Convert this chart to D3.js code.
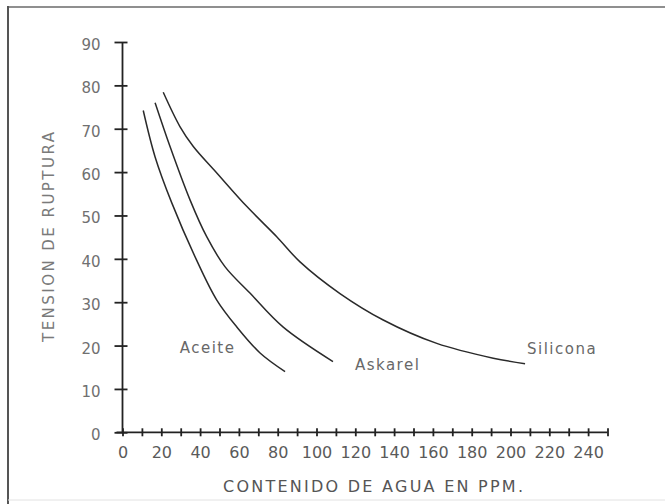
<!DOCTYPE html>
<html>
<head>
<meta charset="utf-8">
<script src="https://cdn.jsdelivr.net/npm/d3@7"></script>
<style>
  html, body { margin: 0; padding: 0; background: #fff; }
  svg { display: block; }
  text { font-family: "DejaVu Sans", Verdana, sans-serif; }
</style>
</head>
<body>
<svg id="chart" width="665" height="504"></svg>
<script>
// Breakdown voltage vs. water content for three insulating liquids
const xTickValues = [0, 20, 40, 60, 80, 100, 120, 140, 160, 180, 200, 220, 240];
const xMinorTicks = d3.range(0, 251, 10);
const yTickValues = [0, 10, 20, 30, 40, 50, 60, 70, 80, 90];

const aceiteX = [10.7, 16.8, 25.4, 38.2, 48.6, 58.9, 70.9, 83.8];
const aceiteY = [74.2, 63.5, 52.9, 39.7, 30.5, 24.3, 18.3, 14.0];

const askarelX = [16.8, 24.5, 34.8, 43.4, 52.8, 65.7, 82.7, 108.5];
const askarelY = [76.0, 65.9, 53.6, 45.1, 38.2, 32.1, 24.3, 16.3];

const siliconaX = [21.0, 29.6, 36.5, 48.6, 64.0, 79.5, 91.5, 112.1, 134.4, 162.0, 191.1, 207.5];
const siliconaY = [78.4, 70.5, 65.9, 59.8, 52.1, 45.1, 39.3, 32.0, 25.9, 20.5, 17.1, 15.8];

const seriesNames = ["Aceite", "Askarel", "Silicona"];

const svg = d3.select("#chart");
const font = "'DejaVu Sans', Verdana, sans-serif";

// frame
svg.append("line").attr("x1", 8).attr("x2", 665).attr("y1", 7).attr("y2", 7)
  .attr("stroke", "#6a6a6a").attr("stroke-width", 1.5);
svg.append("line").attr("x1", 8).attr("x2", 8).attr("y1", 6).attr("y2", 504)
  .attr("stroke", "#555").attr("stroke-width", 2);
svg.append("line").attr("x1", 8).attr("x2", 665).attr("y1", 500).attr("y2", 500)
  .attr("stroke", "#e2e2e2").attr("stroke-width", 1);

const x = d3.scaleLinear().domain([0, 250]).range([122.5, 607.5]);
const y = d3.scaleLinear().domain([0, 90]).range([432.3, 42]);

const ink = "#222";
const labelGrey = "#686868";

// y axis with ticks crossing the line
const yAxis = svg.append("g")
  .attr("transform", `translate(${x(0)},0)`)
  .call(d3.axisLeft(y).tickValues(yTickValues).tickSize(8).tickPadding(14));
yAxis.select(".domain").attr("stroke", ink).attr("stroke-width", 1.8)
  .attr("d", `M0,${y(90)}V${y(0)}`);
yAxis.selectAll(".tick line").attr("x1", 5).attr("x2", -8)
  .attr("stroke", ink).attr("stroke-width", 1.8);
yAxis.selectAll(".tick text")
  .attr("fill", "#707070").attr("font-size", 15).attr("dy", "0.5em")
  .attr("font-family", font);

// x axis: ticks every 10 units, labels every 20
const xAxis = svg.append("g")
  .attr("transform", `translate(0,${y(0)})`)
  .call(d3.axisBottom(x).tickValues(xMinorTicks).tickSize(0)
    .tickFormat(d => xTickValues.includes(d) ? d : ""));
xAxis.select(".domain").attr("stroke", ink).attr("stroke-width", 1.8)
  .attr("d", `M${x(0) - 6},0H${x(250)}`);
xAxis.selectAll(".tick").append("line")
  .attr("y1", -4).attr("y2", 4)
  .attr("stroke", ink).attr("stroke-width", 1.8);
xAxis.selectAll(".tick text")
  .attr("fill", "#5a5a5a").attr("font-size", 16).attr("y", 14).attr("dy", "0.71em")
  .attr("font-family", font);

// curves
const line = d3.line().x(d => x(d[0])).y(d => y(d[1])).curve(d3.curveCatmullRom.alpha(0.5));
const curves = [
  d3.zip(aceiteX, aceiteY),
  d3.zip(askarelX, askarelY),
  d3.zip(siliconaX, siliconaY)
];
svg.append("g").selectAll("path").data(curves).join("path")
  .attr("d", line)
  .attr("fill", "none").attr("stroke", "#2a2a2a").attr("stroke-width", 1.5);

// curve labels
const labelPos = [[29.5, 19.5], [119.8, 15.5], [208.5, 19.4]];
svg.append("g").selectAll("text").data(seriesNames).join("text")
  .attr("x", (d, i) => x(labelPos[i][0]))
  .attr("y", (d, i) => y(labelPos[i][1]))
  .attr("dy", "0.36em")
  .attr("fill", labelGrey).attr("font-size", 15)
  .attr("letter-spacing", 1.5)
  .text(d => d);

// axis titles
svg.append("text")
  .attr("x", 373).attr("y", 486).attr("dy", "0.36em")
  .attr("text-anchor", "middle")
  .attr("fill", "#555").attr("font-size", 16)
  .attr("textLength", 300).attr("lengthAdjust", "spacing")
  .text("CONTENIDO DE AGUA EN PPM.");

svg.append("text")
  .attr("transform", "translate(49,237) rotate(-90)")
  .attr("text-anchor", "middle").attr("dy", "0.36em")
  .attr("fill", "#7a7a7a").attr("font-size", 15)
  .attr("textLength", 210).attr("lengthAdjust", "spacing")
  .text("TENSION DE RUPTURA");
</script>
</body>
</html>
